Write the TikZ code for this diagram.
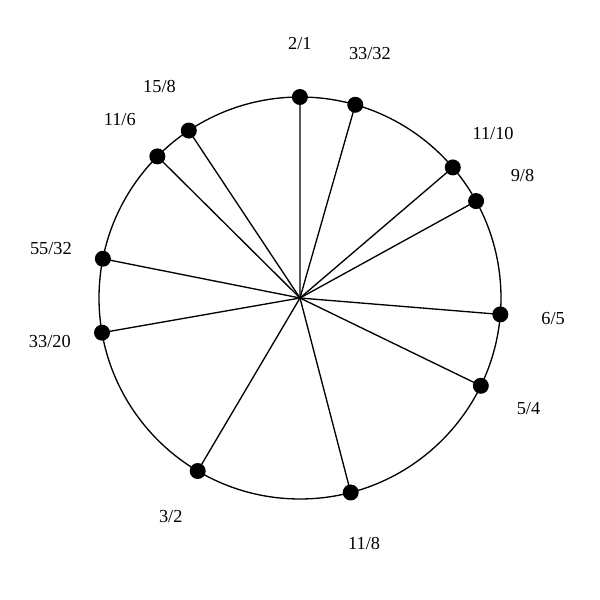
\documentclass[tikz,border=0pt]{standalone}
\usepackage{fontspec}
\setmainfont{Liberation Serif}
\usepackage{tkz-euclide}

\begin{document}
\begin{tikzpicture}[font=\fontsize{13.8}{16}\selectfont]
\useasboundingbox (-7.9375,-7.9904) rectangle (7.9375,7.8846);
\tkzSetUpLine[line width=1pt,color=black]

\tkzDefPoint(0,0){O}
\tkzDefPoint(90:5.318){T}
\tkzDrawCircle[line width=1pt,color=black](O,T)

\foreach \p/\q in {2/1,33/32,11/10,9/8,6/5,5/4,11/8,3/2,33/20,55/32,11/6,15/8}{
  \pgfmathsetmacro\ang{90-360*ln(\p/\q)/ln(2)}
  \tkzDefPoint(\ang:5.318){P\p\q}
  \tkzDefPoint(\ang:6.72){L\p\q}
  \tkzDrawSegment(O,P\p\q)
  \fill (P\p\q) circle (0.2117);
  \node (N\p\q) at (L\p\q) {\p/\q};
}

\end{tikzpicture}
\end{document}
